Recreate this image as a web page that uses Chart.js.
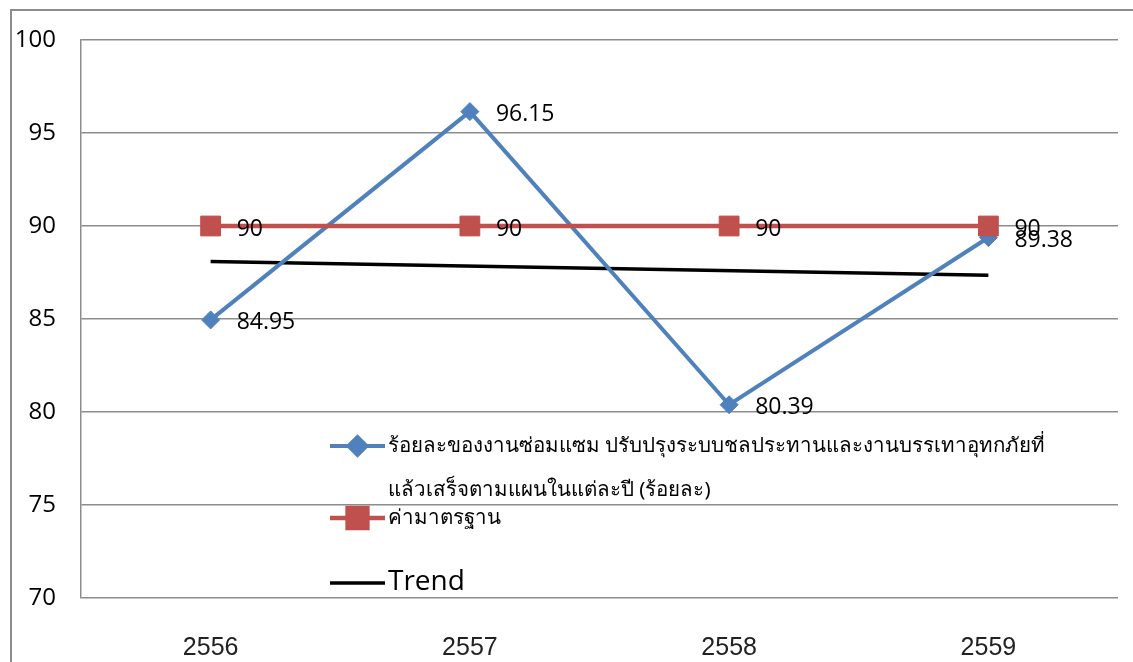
<!DOCTYPE html>
<html>
<head>
<meta charset="utf-8">
<script src="https://cdn.jsdelivr.net/npm/chart.js@4.4.1/dist/chart.umd.min.js"></script>
<style>
  html, body { margin: 0; padding: 0; background: #fff; }
  #wrap { width: 1133px; height: 662px; position: relative; }
</style>
</head>
<body>
<div id="wrap"><canvas id="lineChart"></canvas></div>
<script>
// ปีงบประมาณ
var years = ["2556", "2557", "2558", "2559"];
// ร้อยละของงานที่แล้วเสร็จ
var percentDone = [84.95, 96.15, 80.39, 89.38];
// ค่ามาตรฐาน
var standard = [90, 90, 90, 90];
// เส้นแนวโน้ม (จุดต้น - จุดปลาย)
var trend = [88.09, null, null, 87.35];
var yTicks = [70, 75, 80, 85, 90, 95, 100];

var seriesNames = [
  ["ร้อยละของงานซ่อมแซม ปรับปรุงระบบชลประทานและงานบรรเทาอุทกภัยที่", "แล้วเสร็จตามแผนในแต่ละปี (ร้อยละ)"],
  ["ค่ามาตรฐาน"],
  ["Trend"]
];

var BLUE = '#4F81BD', RED = '#C0504D';
var thaiFont = '"Noto Sans", "DejaVu Sans", sans-serif';

// กรอบนอกของกราฟ
var frame = {
  id: 'frame',
  beforeDraw: function (chart) {
    var c = chart.ctx;
    c.save();
    c.strokeStyle = '#8c8c8c';
    c.lineWidth = 2;
    c.beginPath();
    c.moveTo(11, chart.height);
    c.lineTo(11, 10);
    c.lineTo(chart.width, 10);
    c.stroke();
    c.restore();
  }
};

// ตัวเลขกำกับจุด
var pointLabels = {
  id: 'pointLabels',
  afterDatasetsDraw: function (chart) {
    var c = chart.ctx;
    c.save();
    c.font = '23px "Open Sans", sans-serif';
    c.fillStyle = '#000';
    c.textBaseline = 'middle';
    c.textAlign = 'left';
    [0, 1].forEach(function (di) {
      var meta = chart.getDatasetMeta(di);
      var values = chart.data.datasets[di].data;
      meta.data.forEach(function (pt, i) {
        c.fillText(String(values[i]), pt.x + 26, pt.y + 3);
      });
    });
    c.restore();
  }
};

// คำอธิบายสัญลักษณ์ภายในพื้นที่กราฟ
var insideLegend = {
  id: 'insideLegend',
  afterDraw: function (chart) {
    var c = chart.ctx;
    var x0 = 330, x1 = 385;
    var rows = [446, 518, 583];
    c.save();
    chart.data.datasets.forEach(function (ds, i) {
      var y = rows[i];
      c.strokeStyle = ds.borderColor;
      c.lineWidth = ds.borderWidth;
      c.beginPath();
      c.moveTo(x0, y);
      c.lineTo(x1, y);
      c.stroke();
      if (ds.pointRadius > 0) {
        c.fillStyle = ds.backgroundColor;
        c.strokeStyle = ds.borderColor;
        Chart.helpers.drawPoint(c, {
          pointStyle: ds.pointStyle, radius: ds.pointRadius,
          borderWidth: 1
        }, (x0 + x1) / 2, y);
      }
      var lines = seriesNames[i];
      c.fillStyle = '#000';
      c.textBaseline = 'middle';
      c.textAlign = 'left';
      c.font = (i === 2) ? '28px "Open Sans", sans-serif' : '20.5px ' + thaiFont;
      lines.forEach(function (t, k) {
        c.fillText(t, x1 + 3, y + k * 44 - (i === 2 ? 1 : 0));
      });
    });
    c.restore();
  }
};

var ctx = document.getElementById('lineChart');

new Chart(ctx, {
  type: 'line',
  data: {
    labels: years,
    datasets: [
      {
        label: seriesNames[0].join(''),
        data: percentDone,
        borderColor: BLUE,
        backgroundColor: BLUE,
        borderWidth: 4,
        pointStyle: 'rectRot',
        pointRadius: 9,
        pointBorderWidth: 1,
        order: 1
      },
      {
        label: seriesNames[1][0],
        data: standard,
        borderColor: RED,
        backgroundColor: RED,
        borderWidth: 4.5,
        pointStyle: 'rect',
        pointRadius: 14,
        pointBorderWidth: 1,
        order: 0
      },
      {
        label: seriesNames[2][0],
        data: trend,
        borderColor: '#000',
        backgroundColor: '#000',
        borderWidth: 3.5,
        pointRadius: 0,
        spanGaps: true,
        order: 2
      }
    ]
  },
  options: {
    responsive: true,
    maintainAspectRatio: false,
    animation: false,
    layout: { padding: { top: 40, right: 12, bottom: 0, left: 0 } },
    plugins: {
      legend: { display: false },
      tooltip: { enabled: false }
    },
    scales: {
      x: {
        offset: true,
        grid: { display: false },
        border: { display: false },
        ticks: {
          padding: 27,
          color: '#222',
          font: { family: '"Liberation Sans", Arial, sans-serif', size: 25 }
        },
        afterFit: function (s) { s.height = 64; }
      },
      y: {
        min: 70,
        max: 100,
        afterBuildTicks: function (s) {
          s.ticks = yTicks.map(function (v) { return { value: v }; });
        },
        grid: { color: '#8c8c8c', lineWidth: 1.5, drawTicks: false },
        border: { color: '#8c8c8c', width: 1.5 },
        ticks: {
          padding: 25,
          color: '#000',
          font: { family: '"Open Sans", sans-serif', size: 24 }
        },
        afterFit: function (s) { s.width = 81; }
      }
    }
  },
  plugins: [frame, pointLabels, insideLegend]
});
</script>
</body>
</html>
